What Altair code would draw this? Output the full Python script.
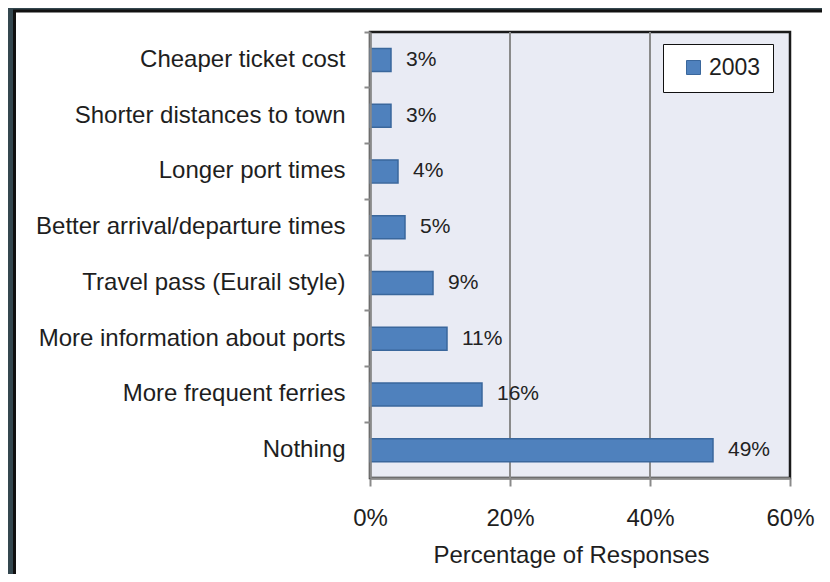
import altair as alt
import pandas as pd

categories = [
    "Cheaper ticket cost",
    "Shorter distances to town",
    "Longer port times",
    "Better arrival/departure times",
    "Travel pass (Eurail style)",
    "More information about ports",
    "More frequent ferries",
    "Nothing",
]
values = [3, 3, 4, 5, 9, 11, 16, 49]
series_name = "2003"
x_ticks = [0, 20, 40, 60]
grid_values = [20, 40]

df = pd.DataFrame({"cat": categories, "val": values, "year": [series_name] * len(values)})
df["lab"] = [f"{v}%" for v in values]
one = pd.DataFrame({"a": [0]})
grid_df = pd.DataFrame({"val": grid_values})

FONT = "Liberation Sans"
W, H = 420, 446

xs = alt.Scale(domain=[0, 60], nice=False, zero=True)
ys = alt.Scale(domain=categories, paddingInner=0, paddingOuter=0)

x_axis = alt.Axis(
    values=x_ticks,
    labelExpr="datum.value + '%'",
    labelFlush=False,
    labelOverlap=False,
    title="Percentage of Responses",
    titleFont=FONT,
    titleFontSize=24,
    titleFontWeight="normal",
    titleColor="#1e1e1e",
    titlePadding=13,
    titleX=201,
    titleAlign="center",
    labelFont=FONT,
    labelFontSize=24,
    labelColor="#1e1e1e",
    labelPadding=20,
    tickSize=8,
    tickColor="#8a8a8a",
    tickWidth=2,
    domainColor="#8a8a8a",
    domainWidth=2.5,
    grid=False,
    zindex=1,
)

y_axis = alt.Axis(
    title=None,
    bandPosition=0,
    labelFont=FONT,
    labelFontSize=24,
    labelColor="#1e1e1e",
    labelPadding=19,
    labelLimit=0,
    tickSize=6,
    tickColor="#8a8a8a",
    tickWidth=2,
    domainColor="#8a8a8a",
    domainWidth=2.5,
    grid=False,
    zindex=1,
)

panel = alt.Chart(one).mark_rect(fill="white", stroke="#111111", strokeWidth=3).encode(
    x=alt.value(-355.5), x2=alt.value(480), y=alt.value(-21), y2=alt.value(580)
)

plotbg = alt.Chart(one).mark_rect(fill="#e9ebf4", stroke="#1a1a1a", strokeWidth=2.5).encode(
    x=alt.value(0), x2=alt.value(W), y=alt.value(0), y2=alt.value(H)
)

grid = alt.Chart(grid_df).mark_rule(color="#8a8a8a", strokeWidth=2).encode(
    x=alt.X("val:Q", scale=xs, axis=x_axis)
)

bars = alt.Chart(df).mark_bar(height=23, stroke="#3a679c", strokeWidth=1.5).encode(
    y=alt.Y("cat:N", scale=ys, sort=categories, axis=y_axis),
    x=alt.X("val:Q", scale=xs, axis=x_axis),
    color=alt.Color(
        "year:N",
        scale=alt.Scale(domain=[series_name], range=["#4f81bd"]),
        legend=alt.Legend(
            title=None,
            orient="none",
            legendX=293,
            legendY=12,
            fillColor="white",
            strokeColor="#111111",
            padding=12,
            symbolType="square",
            symbolSize=196,
            symbolOffset=7,
            symbolStrokeColor="#3a679c",
            symbolStrokeWidth=1,
            labelFont=FONT,
            labelFontSize=23,
            labelColor="#1e1e1e",
            labelOffset=4,
        ),
    ),
)

labels = alt.Chart(df).mark_text(
    align="left", baseline="middle", dx=15, font=FONT, fontSize=21, color="#222222"
).encode(
    y=alt.Y("cat:N", scale=ys, sort=categories, axis=y_axis),
    x=alt.X("val:Q", scale=xs, axis=x_axis),
    text="lab:N",
)

chart = alt.layer(panel, plotbg, grid, bars, labels).properties(
    width=W,
    height=H,
    autosize=alt.AutoSizeParams(type="none"),
    padding={"left": 362, "top": 24, "right": 32, "bottom": 96},
    background="#34474f",
).configure_view(stroke=None)

chart.save("out.html", embed_options={"renderer": "svg", "actions": False})
